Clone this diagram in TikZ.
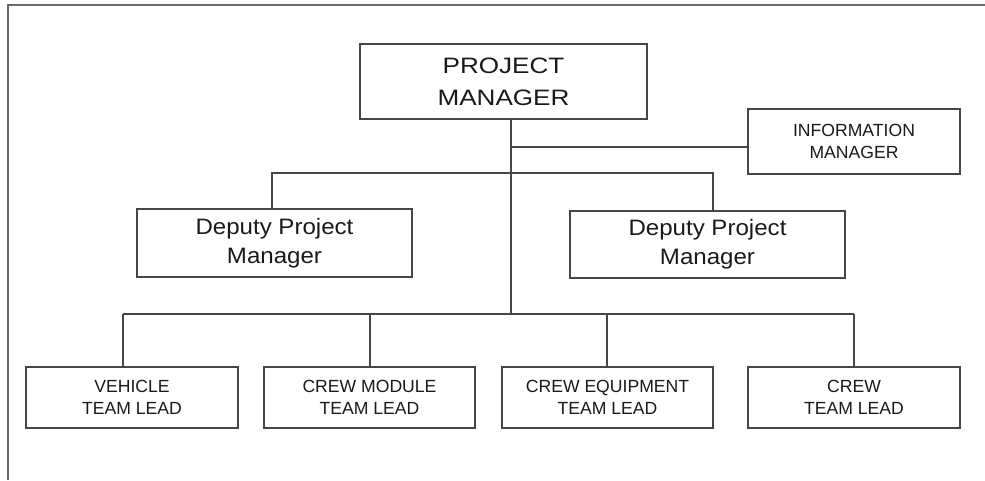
\documentclass[tikz,border=0pt]{standalone}
\usepackage{fontspec}
\setmainfont{Liberation Sans}
\newfontfamily\pmfont[FakeStretch=1.17]{Liberation Sans}
\newfontfamily\depfont[FakeStretch=1.08]{Liberation Sans}
\definecolor{linegray}{RGB}{70,70,70}
\definecolor{framegray}{RGB}{105,105,105}
\definecolor{textgray}{RGB}{25,25,25}
\begin{document}
\begin{tikzpicture}[x=1pt,y=-1pt,
  box/.style={draw=linegray,line width=1.8pt,rectangle,inner sep=0pt,align=center,text=textgray},
  conn/.style={draw=linegray,line width=1.6pt},
  smallfont/.style={font={\fontsize{17.6}{21.7}\selectfont}}]
\useasboundingbox (0,0) rectangle (985,480);
\draw[framegray,line width=1.8pt] (8,480) -- (8,5) -- (985,5);

\node[box,minimum width=287pt,minimum height=75pt,font={\pmfont\fontsize{22.3}{32.3}\selectfont}] (pm) at (503.5,81.5) {PROJECT\\MANAGER};
\node[box,minimum width=212pt,minimum height=65pt,smallfont] (im) at (854,141.5) {INFORMATION\\MANAGER};
\node[box,minimum width=275pt,minimum height=68pt,font={\depfont\fontsize{22.3}{29}\selectfont}] (dl) at (274.5,243) {Deputy Project\\Manager};
\node[box,minimum width=275pt,minimum height=67pt,font={\depfont\fontsize{22.3}{29}\selectfont}] (dr) at (707.5,244.5) {Deputy Project\\Manager};

\node[box,minimum width=212pt,minimum height=61pt,smallfont] (b1) at (132,397.5) {VEHICLE\\TEAM LEAD};
\node[box,minimum width=211pt,minimum height=61pt,smallfont] (b2) at (369.5,397.5) {CREW MODULE\\TEAM LEAD};
\node[box,minimum width=211pt,minimum height=61pt,smallfont] (b3) at (607.5,397.5) {CREW EQUIPMENT\\TEAM LEAD};
\node[box,minimum width=212pt,minimum height=61pt,smallfont] (b4) at (854,397.5) {CREW\\TEAM LEAD};

\coordinate (tx) at (511,314);
\coordinate (ij) at (511,147);
\coordinate (tl) at (272,173);
\coordinate (tr) at (713,173);
\coordinate (d1) at (123,314);
\coordinate (d2) at (370,314);
\coordinate (d3) at (607,314);
\coordinate (d4) at (854,314);

\draw[conn] (tx |- pm.south) -- (tx);
\draw[conn] (ij) -- (ij -| im.west);
\draw[conn] (tl |- dl.north) -- (tl) -- (tr) -- (tr |- dr.north);
\draw[conn] (d1) -- (d4);
\draw[conn] (d1) -- (d1 |- b1.north);
\draw[conn] (d2) -- (d2 |- b2.north);
\draw[conn] (d3) -- (d3 |- b3.north);
\draw[conn] (d4) -- (d4 |- b4.north);
\end{tikzpicture}
\end{document}
